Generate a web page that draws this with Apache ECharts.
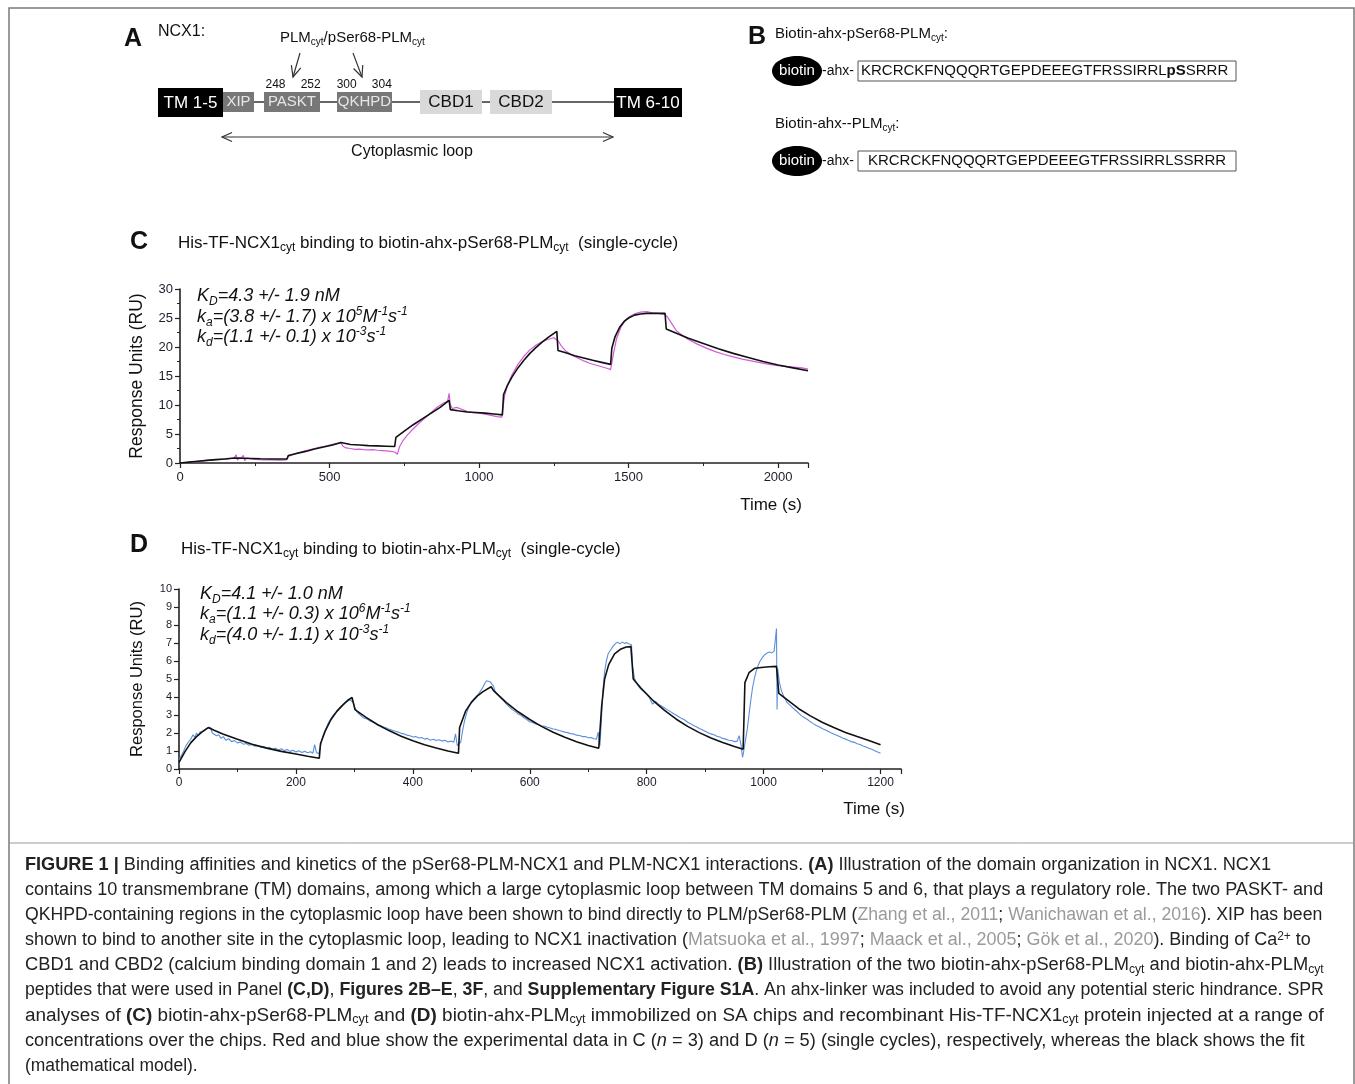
<!DOCTYPE html>
<html>
<head>
<meta charset="utf-8">
<script src="https://cdn.jsdelivr.net/npm/echarts@6/dist/echarts.min.js"></script>
<style>
html, body { margin: 0; padding: 0; background: #fff; }
#fig { width: 1355px; height: 1084px; }
</style>
</head>
<body>
<div id="fig"></div>
<script>
// panel C: experimental trace (magenta) and fit (black), [time s, RU]
const cData = [[0,0],[15,0.05],[30,0.12],[45,0.2],[60,0.28],[75,0.36],[90,0.44],[105,0.5],[120,0.58],[135,0.62],[150,0.7],[165,0.74],[180,0.8],[188,1.4],[192,0.5],[198,0.9],[206,0.95],[212,1.3],[216,0.4],[222,0.85],[235,0.75],[250,0.62],[265,0.58],[280,0.55],[295,0.52],[310,0.53],[325,0.5],[340,0.48],[355,0.55],
  [362,1.15],[375,1.4],[390,1.7],[405,1.9],[420,2.1],[435,2.3],[450,2.5],[465,2.7],[480,2.85],[495,3.0],[510,3.2],[525,3.35],[538,3.5],
  [545,2.9],[555,2.6],[570,2.5],[585,2.35],[600,2.4],[615,2.3],[630,2.25],[645,2.3],[660,2.2],[675,2.15],[690,2.1],[705,2.0],[718,1.9],
  [722,2.1],[727,1.5],[734,2.8],[745,3.8],[760,4.8],[780,5.9],[800,6.9],[820,7.8],[840,8.7],[860,9.6],[880,10.3],[895,10.7],[900,12.0],[903,10.2],[910,9.4],[925,9.6],[940,9.3],[960,8.9],[980,8.7],[1000,8.6],[1020,8.4],[1040,8.2],[1060,8.0],[1076,7.9],
  [1080,9.5],[1085,11.5],[1095,13.4],[1110,15.2],[1130,17.0],[1150,18.4],[1170,19.5],[1190,20.3],[1210,20.9],[1230,21.3],[1250,21.6],[1258,21.3],[1265,21.0],[1275,20.2],[1290,19.3],[1310,18.6],[1330,18.1],[1350,17.6],[1370,17.2],[1390,16.9],[1410,16.6],[1430,16.3],[1440,16.1],
  [1446,15.9],[1450,19.0],[1460,21.5],[1475,23.5],[1490,24.6],[1505,25.3],[1520,25.7],[1540,26.0],[1560,26.1],[1580,25.9],[1600,25.8],[1620,25.6],[1630,25.2],[1645,24.0],[1660,22.8],[1680,22.0],[1700,21.3],[1730,20.5],[1760,19.8],[1790,19.2],[1820,18.7],[1850,18.3],[1880,17.9],[1910,17.6],[1940,17.3],[1970,17.0],[2000,16.8],[2030,16.6],[2060,16.5],[2080,16.4],[2100,16.2]];

const cFit = [[0,0],[30,0.15],[60,0.3],[90,0.45],[120,0.58],[150,0.7],[180,0.85],[210,0.83],[240,0.78],[270,0.72],[300,0.7],[330,0.7],[358,0.7],
  [362,1.3],[390,1.65],[420,2.0],[450,2.4],[480,2.75],[510,3.1],[538,3.55],
  [542,3.3],[570,3.2],[600,3.1],[630,3.0],[660,2.95],[690,2.9],[718,2.85],
  [722,4.4],[750,5.5],[780,6.6],[810,7.6],[840,8.6],[870,9.6],[900,10.8],
  [904,9.2],[930,9.0],[960,8.8],[990,8.7],[1020,8.6],[1050,8.45],[1078,8.3],
  [1082,11.8],[1095,13.4],[1110,14.8],[1130,16.4],[1150,17.7],[1170,18.9],[1190,19.9],[1210,20.8],[1230,21.6],[1260,22.7],
  [1264,19.4],[1290,19.0],[1320,18.5],[1350,18.1],[1380,17.7],[1410,17.35],[1440,17.0],
  [1444,19.8],[1455,21.8],[1470,23.4],[1485,24.4],[1500,25.0],[1520,25.5],[1540,25.7],[1560,25.8],[1590,25.8],[1622,25.8],
  [1626,23.1],[1650,22.6],[1700,21.5],[1750,20.6],[1800,19.7],[1850,18.9],[1900,18.2],[1950,17.5],[2000,16.9],[2050,16.4],[2100,15.9]];

// panel D: experimental trace (blue) and fit (black), [time s, RU]
const dData = [[0,0.5],[4,0.75],[8,1.0],[12,1.3],[16,1.5],[20,1.65],[24,1.9],[27,1.75],[30,2.0],[33,1.85],[36,2.05],[39,1.95],[42,2.1],[45,2.0],[48,2.25],[51,2.15],[54,2.3],[57,2.0],[60,2.1],[64,1.85],[68,1.9],[72,1.7],[76,1.8],[80,1.6],[85,1.68],[90,1.52],[95,1.58],[100,1.45],[105,1.5],[110,1.38],[115,1.42],[120,1.32],[125,1.36],[130,1.26],[135,1.3],[140,1.2],[145,1.25],[150,1.15],[155,1.2],[160,1.1],[165,1.16],[170,1.06],[175,1.12],[180,1.02],[185,1.08],[190,0.98],[195,1.04],[200,0.95],[205,1.02],[210,0.92],[215,0.98],[220,0.9],[225,0.96],[229,0.88],[232,1.35],[235,0.92],[239,0.85],
  [242,1.25],[245,1.7],[248,2.0],[252,2.3],[256,2.6],[260,2.8],[264,3.0],[268,3.15],[272,3.3],[276,3.45],[280,3.55],[284,3.7],[288,3.75],[292,3.85],[295,3.9],[298,3.7],[301,3.4],[305,3.15],[310,3.0],[315,2.85],[320,2.8],[325,2.7],[330,2.62],[335,2.55],[340,2.45],[345,2.4],[350,2.33],[355,2.28],[360,2.2],[365,2.15],[370,2.1],[375,2.05],[380,1.98],[385,1.95],[390,1.88],[395,1.85],[400,1.78],[405,1.8],[410,1.72],[415,1.75],[420,1.66],[425,1.7],[430,1.6],[435,1.65],[440,1.58],[445,1.62],[450,1.55],[455,1.6],[460,1.5],[465,1.55],[470,1.48],[473,1.95],[476,1.3],[479,1.2],
  [482,1.5],[485,2.1],[488,2.6],[491,3.0],[494,3.3],[497,3.5],[500,3.65],[504,3.85],[508,4.0],[512,4.15],[516,4.35],[520,4.55],[523,4.75],[526,4.9],[529,4.95],[532,4.85],[535,4.9],[538,4.6],[541,4.3],[545,4.15],[550,3.95],[555,3.8],[560,3.6],[565,3.45],[570,3.3],[575,3.2],[580,3.05],[585,2.98],[590,2.85],[595,2.75],[600,2.62],[605,2.58],[610,2.5],[615,2.46],[620,2.4],[625,2.38],[630,2.32],[635,2.28],[640,2.22],[645,2.2],[650,2.14],[655,2.1],[660,2.05],[665,2.02],[670,1.96],[675,1.95],[680,1.88],[685,1.86],[690,1.8],[695,1.8],[700,1.74],[705,1.75],[710,1.68],[714,1.65],[717,2.05],[720,1.3],
  [722,2.4],[725,4.3],[728,5.4],[731,6.0],[734,6.4],[738,6.6],[742,6.8],[746,6.95],[750,7.05],[754,6.95],[758,7.05],[762,6.98],[766,7.02],[770,6.95],[774,6.9],[776,5.7],[779,5.05],[783,4.75],[787,4.55],[791,4.4],[795,4.3],[800,4.15],[805,3.95],[810,3.6],[815,3.75],[820,3.6],[825,3.5],[830,3.4],[835,3.3],[840,3.2],[845,3.1],[850,3.0],[855,2.9],[860,2.8],[865,2.72],[870,2.6],[875,2.52],[880,2.42],[885,2.35],[890,2.25],[895,2.18],[900,2.1],[905,2.02],[910,1.95],[915,1.9],[920,1.82],[925,1.78],[930,1.7],[935,1.66],[940,1.6],[945,1.58],[950,1.52],[955,1.55],[958,1.85],[961,1.4],[964,0.65],[966,1.0],
  [969,1.6],[972,2.2],[975,3.0],[978,3.8],[981,4.5],[984,5.0],[987,5.4],[990,5.7],[994,6.0],[998,6.2],[1002,6.35],[1006,6.45],[1010,6.5],[1014,6.45],[1018,6.55],[1021,6.5],[1022,7.8],[1023,3.3],[1024,5.6],[1027,4.8],[1031,4.3],[1035,4.0],[1040,3.7],[1045,3.55],[1050,3.4],[1055,3.25],[1060,3.1],[1065,2.95],[1070,2.85],[1075,2.75],[1080,2.62],[1085,2.52],[1090,2.42],[1095,2.35],[1100,2.25],[1105,2.18],[1110,2.1],[1115,2.02],[1120,1.95],[1125,1.88],[1130,1.8],[1135,1.72],[1140,1.66],[1145,1.6],[1150,1.52],[1155,1.48],[1160,1.4],[1165,1.36],[1170,1.28],[1175,1.22],[1180,1.15],[1185,1.1],[1190,1.02],[1195,0.95],[1200,0.88]];

const dFit = [[0,0.37],[10,0.95],[20,1.45],[30,1.8],[40,2.08],[50,2.3],[60,2.15],[75,1.95],[100,1.65],[125,1.38],[150,1.16],[175,0.98],[200,0.83],[220,0.71],[240,0.6],
  [242,1.4],[250,2.1],[260,2.75],[270,3.2],[280,3.55],[290,3.85],[296,3.97],
  [301,3.3],[320,2.87],[340,2.46],[360,2.12],[380,1.82],[400,1.57],[420,1.35],[440,1.17],[460,1.0],[478,0.87],
  [480,2.3],[490,3.2],[500,3.7],[510,4.05],[520,4.3],[534,4.57],
  [538,4.35],[560,3.69],[580,3.18],[600,2.75],[620,2.37],[640,2.04],[660,1.76],[680,1.52],[700,1.31],[718,1.15],
  [720,1.2],[723,3.5],[728,5.0],[735,5.8],[745,6.4],[755,6.65],[765,6.78],[773,6.8],
  [777,5.0],[790,4.5],[810,3.83],[830,3.27],[850,2.78],[870,2.37],[890,2.02],[910,1.72],[930,1.47],[950,1.25],[965,1.1],
  [968,4.8],[975,5.35],[985,5.6],[1000,5.65],[1010,5.68],[1022,5.7],
  [1026,4.2],[1040,3.85],[1060,3.35],[1080,2.95],[1100,2.6],[1120,2.3],[1140,2.03],[1160,1.8],[1180,1.58],[1200,1.35]];

const numbersA = ['248', '252', '300', '304'];
const seqPhospho = 'KRCRCKFNQQQRTGEPDEEEGTFRSSIRRL{b|pS}SRRR';
const seqPlain = 'KRCRCKFNQQQRTGEPDEEEGTFRSSIRRLSSRRR';

const captionLines = [
  '{b|FIGURE 1 |} Binding affinities and kinetics of the pSer68-PLM-NCX1 and PLM-NCX1 interactions. {b|(A)} Illustration of the domain organization in NCX1. NCX1',
  'contains 10 transmembrane (TM) domains, among which a large cytoplasmic loop between TM domains 5 and 6, that plays a regulatory role. The two PASKT- and',
  'QKHPD-containing regions in the cytoplasmic loop have been shown to bind directly to PLM/pSer68-PLM ({g|Zhang et al., 2011}; {g|Wanichawan et al., 2016}). XIP has been',
  'shown to bind to another site in the cytoplasmic loop, leading to NCX1 inactivation ({g|Matsuoka et al., 1997}; {g|Maack et al., 2005}; {g|Gök et al., 2020}). Binding of Ca{sup|2+} to',
  'CBD1 and CBD2 (calcium binding domain 1 and 2) leads to increased NCX1 activation. {b|(B)} Illustration of the two biotin-ahx-pSer68-PLM{sub|cyt} and biotin-ahx-PLM{sub|cyt}',
  'peptides that were used in Panel {b|(C,D)}, {b|Figures 2B–E}, {b|3F}, and {b|Supplementary Figure S1A}. An ahx-linker was included to avoid any potential steric hindrance. SPR',
  'analyses of {b|(C)} biotin-ahx-pSer68-PLM{sub|cyt} and {b|(D)} biotin-ahx-PLM{sub|cyt} immobilized on SA chips and recombinant His-TF-NCX1{sub|cyt} protein injected at a range of',
  'concentrations over the chips. Red and blue show the experimental data in C ({i|n} = 3) and D ({i|n} = 5) (single cycles), respectively, whereas the black shows the fit',
  '(mathematical model).'
];
// horizontal stretch per caption line, to land on the reference line ends
const captionStretch = [1.008, 1.003, 0.98, 0.998, 1.016, 0.985, 1.052, 1.012, 0.97];

const FF = '"Liberation Sans", Arial, Helvetica, sans-serif';

function richSet(size, italic) {
  const fs = italic ? 'italic' : 'normal';
  const small = Math.round(size * 0.68);
  return {
    b: { fontSize: size, fontFamily: FF, fontWeight: 'bold', fontStyle: fs },
    g: { fontSize: size, fontFamily: FF, fill: '#9a9a9a', fontStyle: fs },
    i: { fontSize: size, fontFamily: FF, fontStyle: 'italic' },
    sub: { fontSize: small, lineHeight: small, fontFamily: FF, fontStyle: fs, verticalAlign: 'bottom' },
    sup: { fontSize: small, lineHeight: small, fontFamily: FF, fontStyle: fs, verticalAlign: 'top' }
  };
}

function T(x, y, text, o) {
  o = o || {};
  const size = o.size || 16;
  return {
    type: 'text', x: x, y: y, z: 20, scaleX: o.sx || 1,
    style: {
      text: text, fontFamily: FF, fontSize: size,
      fontWeight: o.weight || 'normal', fontStyle: o.italic ? 'italic' : 'normal',
      fill: o.color || '#111',
      align: o.align || 'left', verticalAlign: 'middle',
      textAlign: o.align || 'left', textVerticalAlign: 'middle',
      lineHeight: o.lh || Math.round(size * 1.25),
      rich: o.rich ? richSet(size, o.italic) : undefined
    }
  };
}

function box(x, y, w, h, fill, stroke) {
  return { type: 'rect', z: 15, shape: { x: x, y: y, width: w, height: h },
    style: { fill: fill, stroke: stroke || null, lineWidth: 1 } };
}

function seg(x1, y1, x2, y2, color, w) {
  return { type: 'line', z: 12, shape: { x1: x1, y1: y1, x2: x2, y2: y2 },
    style: { stroke: color || '#333', lineWidth: w || 1.2 } };
}

function head(x1, y1, x2, y2, len) {
  const a = Math.atan2(y2 - y1, x2 - x1), s = 0.42;
  return { type: 'polyline', z: 12, shape: { points: [
    [x2 - len * Math.cos(a - s), y2 - len * Math.sin(a - s)], [x2, y2],
    [x2 - len * Math.cos(a + s), y2 - len * Math.sin(a + s)]] },
    style: { stroke: '#333', lineWidth: 1.2, fill: null } };
}

const g = [];
// frame
g.push({ type: 'rect', z: 1, shape: { x: 9, y: 8, width: 1345, height: 1100 }, style: { fill: null, stroke: '#7a7a7a', lineWidth: 1.5 } });
g.push(seg(9, 843, 1354, 843, '#9a9a9a', 1));

// panel A
g.push(T(124, 39, 'A', { size: 25, weight: 'bold' }));
g.push(T(158, 32, 'NCX1:', { size: 16 }));
g.push(T(280, 38, 'PLM{sub|cyt}/pSer68-PLM{sub|cyt}', { size: 15, rich: true }));
g.push(seg(300, 53, 293, 77), head(300, 53, 293, 77, 12));
g.push(seg(353, 53, 362, 77), head(353, 53, 362, 77, 12));
[275.5, 310.7, 346.7, 381.8].forEach(function (x, i) { g.push(T(x, 85, numbersA[i], { size: 12, align: 'center' })); });
g.push(seg(222, 102, 614, 102, '#333', 1.5));
g.push(box(158, 88, 65, 29, '#000'), T(190.5, 103, 'TM 1-5', { size: 17, color: '#fff', align: 'center' }));
g.push(box(223, 92, 31, 20, '#777'), T(238.5, 102, 'XIP', { size: 15, color: '#e6e6e6', align: 'center' }));
g.push(box(264, 92, 56, 20, '#777'), T(292, 102, 'PASKT', { size: 15, color: '#e6e6e6', align: 'center' }));
g.push(box(337, 92, 55, 20, '#777'), T(364.5, 102, 'QKHPD', { size: 15, color: '#e6e6e6', align: 'center' }));
g.push(box(420, 90, 62, 24, '#d9d9d9'), T(451, 102, 'CBD1', { size: 17, align: 'center' }));
g.push(box(490, 90, 62, 24, '#d9d9d9'), T(521, 102, 'CBD2', { size: 17, align: 'center' }));
g.push(box(614, 88, 68, 29, '#000'), T(648, 103, 'TM 6-10', { size: 17, color: '#fff', align: 'center' }));
g.push(seg(222, 137, 613, 137, '#333', 1.2), head(613, 137, 222, 137, 11), head(222, 137, 613, 137, 11));
g.push(T(412, 152, 'Cytoplasmic loop', { size: 16, align: 'center' }));

// panel B
g.push(T(748, 37, 'B', { size: 25, weight: 'bold' }));
g.push(T(775, 34, 'Biotin-ahx-pSer68-PLM{sub|cyt}:', { size: 15, rich: true }));
g.push(T(775, 124, 'Biotin-ahx--PLM{sub|cyt}:', { size: 15, rich: true }));
[71, 161].forEach(function (cy, k) {
  g.push({ type: 'ellipse', z: 15, shape: { cx: 797, cy: cy, rx: 25, ry: 15 }, style: { fill: '#000' } });
  g.push(T(797, cy, 'biotin', { size: 15, color: '#fff', align: 'center' }));
  g.push(T(822, cy, '-ahx-', { size: 14 }));
  g.push(box(858, cy - 10, 378, 20, null, '#555'));
  g.push(k === 0 ? T(861, cy, seqPhospho, { size: 15, rich: true }) : T(1047, cy, seqPlain, { size: 15, align: 'center' }));
});

// panel C and D headings and annotations
g.push(T(130, 242, 'C', { size: 25, weight: 'bold' }));
g.push(T(178, 243, 'His-TF-NCX1{sub|cyt} binding to biotin-ahx-pSer68-PLM{sub|cyt}  (single-cycle)', { size: 17, rich: true }));
g.push(T(197, 296, 'K{sub|D}=4.3 +/- 1.9 nM', { size: 18, italic: true, rich: true }));
g.push(T(197, 317, 'k{sub|a}=(3.8 +/- 1.7) x 10{sup|5}M{sup|-1}s{sup|-1}', { size: 18, italic: true, rich: true }));
g.push(T(197, 337, 'k{sub|d}=(1.1 +/- 0.1) x 10{sup|-3}s{sup|-1}', { size: 18, italic: true, rich: true }));
g.push(T(771, 505, 'Time (s)', { size: 17, align: 'center' }));

g.push(T(130, 545, 'D', { size: 25, weight: 'bold' }));
g.push(T(181, 549, 'His-TF-NCX1{sub|cyt} binding to biotin-ahx-PLM{sub|cyt}  (single-cycle)', { size: 17, rich: true }));
g.push(T(200, 594, 'K{sub|D}=4.1 +/- 1.0 nM', { size: 18, italic: true, rich: true }));
g.push(T(200, 614, 'k{sub|a}=(1.1 +/- 0.3) x 10{sup|6}M{sup|-1}s{sup|-1}', { size: 18, italic: true, rich: true }));
g.push(T(200, 635, 'k{sub|d}=(4.0 +/- 1.1) x 10{sup|-3}s{sup|-1}', { size: 18, italic: true, rich: true }));
g.push(T(874, 809, 'Time (s)', { size: 17, align: 'center' }));

// caption
captionLines.forEach(function (line, i) {
  g.push(T(25, 865 + i * 25.1, line, { size: 18, color: '#222', rich: true, lh: 20, sx: captionStretch[i] }));
});

function xAxisOf(grid, max, step, size) {
  return {
    gridIndex: grid, type: 'value', min: 0, max: max, interval: step,
    axisLine: { show: true, onZero: false, lineStyle: { color: '#222', width: 1.6 } },
    axisTick: { show: true, length: 5, lineStyle: { color: '#222', width: 1.2 } },
    minorTick: { show: true, splitNumber: 2, length: 3, lineStyle: { color: '#222' } },
    splitLine: { show: false }, minorSplitLine: { show: false },
    axisLabel: { color: '#1d1d2b', fontSize: size, fontFamily: FF, margin: 8, showMaxLabel: false,
      formatter: function (v) { return v % step === 0 ? String(v) : ''; } }
  };
}

function yAxisOf(grid, max, step, size, gap, nameSize, minor) {
  return {
    gridIndex: grid, type: 'value', min: 0, max: max, interval: step,
    name: 'Response Units (RU)', nameLocation: 'middle', nameGap: gap,
    nameTextStyle: { fontSize: nameSize, fontFamily: FF, color: '#111' },
    axisLine: { show: true, onZero: false, lineStyle: { color: '#222', width: 1.6 } },
    axisTick: { show: true, length: 5, lineStyle: { color: '#222', width: 1.2 } },
    minorTick: { show: minor, splitNumber: 2, length: 3, lineStyle: { color: '#222' } },
    splitLine: { show: false },
    axisLabel: { color: '#1d1d2b', fontSize: size, fontFamily: FF, margin: 7 }
  };
}

function trace(ax, data, color, width, z) {
  return { type: 'line', xAxisIndex: ax, yAxisIndex: ax, data: data, showSymbol: false, symbol: 'none',
    smooth: false, lineStyle: { color: color, width: width }, z: z, silent: true };
}

const chart = echarts.init(document.getElementById('fig'), null, { renderer: 'canvas' });
chart.setOption({
  animation: false,
  backgroundColor: '#fff',
  grid: [
    { left: 180, top: 289, width: 628, height: 174 },
    { left: 179, top: 589, width: 722, height: 180 }
  ],
  xAxis: [xAxisOf(0, 2100, 500, 13), xAxisOf(1, 1235, 200, 12)],
  yAxis: [yAxisOf(0, 30, 5, 13, 34, 17.5, true), yAxisOf(1, 10, 1, 11, 33, 16.5, false)],
  series: [
    trace(0, cData, '#d35bd8', 1.2, 2),
    trace(0, cFit, '#111', 1.6, 3),
    trace(1, dData, '#5b8fdc', 1.1, 2),
    trace(1, dFit, '#111', 1.6, 3)
  ],
  graphic: { elements: g }
});
</script>
</body>
</html>
